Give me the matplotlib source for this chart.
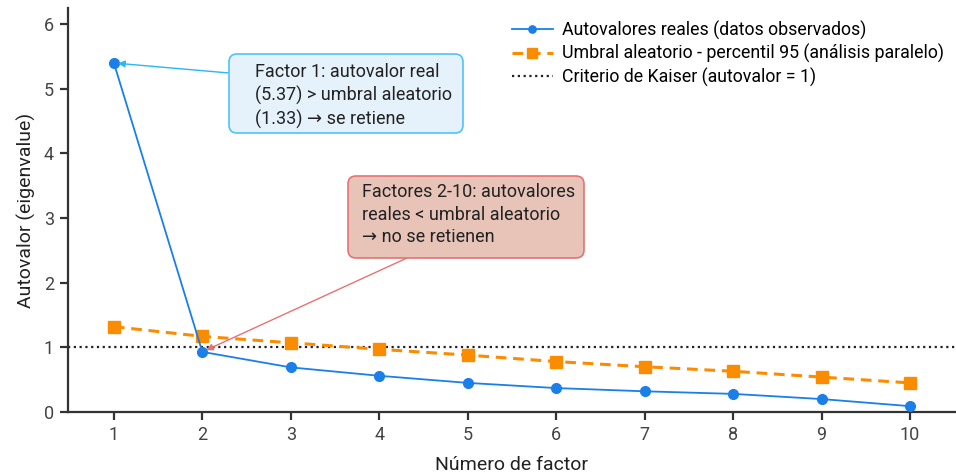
import matplotlib as mpl
import matplotlib.pyplot as plt
from matplotlib.patches import FancyBboxPatch

mpl.rcParams.update({
    "font.family": ["Roboto", "DejaVu Sans"],
    "font.size": 13,
})

factors = list(range(1, 11))
real_eig = [5.40, 0.93, 0.69, 0.56, 0.45, 0.37, 0.32, 0.28, 0.20, 0.09]
random_p95 = [1.32, 1.17, 1.07, 0.97, 0.88, 0.78, 0.70, 0.63, 0.54, 0.45]
kaiser = 1.0

BLUE = "#1a7fe8"
ORANGE = "#fb8c00"
AXIS = "#333333"
H = 473  # figure height in px, for placing the callouts


def callout(fig, ax, text, box, text_xy, fc, ec, arrow_from, target, arrow_color):
    # box: (left, top, right, bottom) in pixels from the top-left corner
    l, t, r, b = box
    patch = FancyBboxPatch((l / 100, (H - b) / 100), (r - l) / 100, (b - t) / 100,
                           boxstyle="round,pad=0,rounding_size=0.08",
                           transform=fig.dpi_scale_trans, fc=fc, ec=ec, lw=1.2, zorder=6)
    fig.patches.append(patch)
    fig.text(text_xy[0] / 956, 1 - text_xy[1] / H, text, ha="left", va="top",
             fontsize=13, color="#222222", linespacing=1.33, zorder=7)
    ax.annotate("", xy=target, xycoords="data",
                xytext=(arrow_from[0], H - arrow_from[1]), textcoords="figure pixels",
                arrowprops=dict(arrowstyle="-|>", color=arrow_color, lw=1.0,
                                mutation_scale=10, shrinkA=0, shrinkB=3),
                zorder=5, annotation_clip=False)


fig = plt.figure(figsize=(9.56, 4.73), dpi=100)
ax = fig.add_axes([0.071, 0.129, 0.929, 0.854])

ax.plot(factors, real_eig, color=BLUE, lw=1.3, marker="o", ms=7,
        label="Autovalores reales (datos observados)", zorder=4)
ax.plot(factors, random_p95, color=ORANGE, lw=2.2, ls=(0, (3.5, 2.2)), marker="s", ms=9,
        label="Umbral aleatorio - percentil 95 (análisis paralelo)", zorder=3)
ax.axhline(kaiser, color="#222222", lw=1.6, ls=(0, (1, 1.6)),
           label="Criterio de Kaiser (autovalor = 1)", zorder=2)

ax.set_xlim(0.48, 10.52)
ax.set_ylim(0, 6.25)
ax.set_xticks(factors)
ax.set_yticks(range(0, 7))
ax.set_xlabel("Número de factor", fontsize=14, color="#222222", labelpad=9)
ax.set_ylabel("Autovalor (eigenvalue)", fontsize=14, color="#222222", labelpad=6)

for side in ("top", "right"):
    ax.spines[side].set_visible(False)
for side in ("left", "bottom"):
    ax.spines[side].set_color(AXIS)
    ax.spines[side].set_linewidth(1.6)
ax.tick_params(axis="both", direction="out", length=6, width=1.6, color=AXIS,
               labelsize=13, labelcolor="#444444", pad=4)

ax.legend(loc="upper right", bbox_to_anchor=(1.0, 1.0), frameon=False, fontsize=12.8,
          handlelength=2.3, handletextpad=0.5, labelspacing=0.25, borderaxespad=0.3,
          markerscale=0.75)

callout(fig, ax, "Factor 1: autovalor real\n(5.37) > umbral aleatorio\n(1.33) → se retiene",
        (229, 54, 463, 133), (255, 63), "#e6f2fb", "#4fc3f7",
        (229, 73), (factors[0], real_eig[0]), "#29b6f6")
callout(fig, ax, "Factores 2-10: autovalores\nreales < umbral aleatorio\n→ no se retienen",
        (348, 176, 584, 258), (362, 183), "#e8c4b8", "#e57373",
        (407, 258), (factors[1], real_eig[1]), "#e57373")

fig.savefig("out.png", dpi=100)
